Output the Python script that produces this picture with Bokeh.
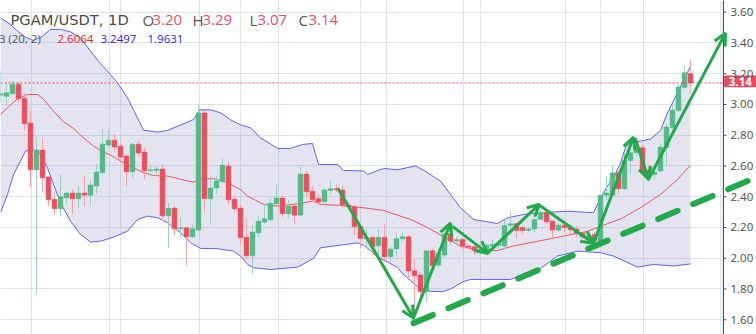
from bokeh.plotting import figure
from bokeh.models import (Range1d, FixedTicker, PrintfTickFormatter, Grid, Arrow,
                          OpenHead, Label, Span, ColumnDataSource, BoxAnnotation)
from bokeh.embed import file_html
from bokeh.resources import INLINE

# ---------------- data (daily candles, index 0..115) ----------------
opens = [3.06, 3.054, 3.069, 3.132, 3.041, 2.879, 2.575, 2.703, 2.528, 2.384,
         2.322, 2.393, 2.424, 2.387, 2.424, 2.410, 2.469, 2.556, 2.736, 2.768,
         2.729, 2.664, 2.562, 2.742, 2.690, 2.569, 2.571, 2.580, 2.276, 2.326,
         2.192, 2.198, 2.140, 2.183, 2.944, 2.387, 2.456, 2.497, 2.599, 2.384,
         2.326, 2.137, 2.016, 2.165, 2.235, 2.250, 2.354, 2.391, 2.289, 2.339,
         2.280, 2.547, 2.436, 2.387, 2.367, 2.441, 2.452, 2.443, 2.346, 2.335,
         2.205, 2.125, 2.136, 2.081, 2.136, 2.010, 2.060, 2.127, 2.140, 1.919,
         1.891, 1.782, 2.049, 1.955, 2.020, 2.159, 2.112, 2.122, 2.079, 2.075,
         2.050, 2.046, 2.079, 2.085, 2.079, 2.213, 2.224, 2.200, 2.181, 2.190,
         2.252, 2.296, 2.241, 2.183, 2.215, 2.200, 2.190, 2.165, 2.132, 2.155,
         2.107, 2.410, 2.410, 2.556, 2.452, 2.636, 2.686, 2.718, 2.570, 2.545,
         2.567, 2.720, 2.850, 2.960, 3.110, 3.20]
highs = [3.22, 3.14, 3.152, 3.14, 3.076, 2.961, 2.788, 2.788, 2.532, 2.436,
         2.547, 2.436, 2.447, 2.473, 2.532, 2.502, 2.610, 2.837, 2.837, 2.809,
         2.740, 2.675, 2.753, 2.762, 2.718, 2.610, 2.599, 2.610, 2.361, 2.339,
         2.263, 2.198, 2.220, 3.000, 2.968, 2.541, 2.534, 2.649, 2.625, 2.410,
         2.350, 2.263, 2.215, 2.280, 2.350, 2.393, 2.476, 2.410, 2.378, 2.350,
         2.593, 2.567, 2.471, 2.415, 2.454, 2.506, 2.480, 2.475, 2.360, 2.346,
         2.216, 2.190, 2.140, 2.194, 2.227, 2.075, 2.162, 2.172, 2.151, 2.000,
         1.912, 2.049, 2.064, 2.060, 2.180, 2.242, 2.140, 2.130, 2.090, 2.080,
         2.070, 2.100, 2.120, 2.110, 2.250, 2.300, 2.230, 2.210, 2.200, 2.260,
         2.320, 2.300, 2.250, 2.240, 2.230, 2.220, 2.210, 2.170, 2.160, 2.170,
         2.410, 2.530, 2.600, 2.570, 2.680, 2.730, 2.780, 2.740, 2.600, 2.570,
         2.750, 2.880, 3.000, 3.130, 3.250, 3.29]
lows = [3.01, 2.99, 3.065, 3.011, 2.833, 2.462, 1.769, 2.426, 2.339, 2.285,
        2.270, 2.350, 2.285, 2.328, 2.335, 2.335, 2.419, 2.541, 2.718, 2.692,
        2.632, 2.471, 2.517, 2.658, 2.510, 2.541, 2.534, 2.241, 2.068, 2.150,
        2.133, 1.953, 2.133, 2.176, 2.300, 2.220, 2.419, 2.491, 2.350, 2.306,
        2.090, 1.992, 1.899, 2.133, 2.220, 2.241, 2.345, 2.267, 2.263, 2.224,
        2.272, 2.393, 2.361, 2.345, 2.361, 2.419, 2.430, 2.326, 2.320, 2.151,
        2.064, 2.070, 2.020, 2.021, 1.977, 1.977, 2.020, 2.107, 1.858, 1.603,
        1.728, 1.717, 1.934, 1.940, 2.000, 2.090, 2.090, 2.060, 2.060, 2.020,
        2.030, 2.030, 2.070, 2.060, 2.060, 2.200, 2.127, 2.160, 2.170, 2.170,
        2.250, 2.220, 2.130, 2.170, 2.170, 2.150, 2.140, 2.120, 2.120, 2.100,
        2.100, 2.380, 2.400, 2.420, 2.440, 2.550, 2.660, 2.540, 2.510, 2.520,
        2.560, 2.600, 2.840, 2.950, 3.100, 3.07]
closes = [3.07, 3.076, 3.132, 3.037, 2.874, 2.575, 2.703, 2.523, 2.380, 2.322,
          2.400, 2.424, 2.387, 2.424, 2.410, 2.476, 2.560, 2.742, 2.768, 2.723,
          2.658, 2.562, 2.742, 2.684, 2.569, 2.575, 2.580, 2.276, 2.326, 2.192,
          2.198, 2.140, 2.192, 2.944, 2.387, 2.456, 2.502, 2.606, 2.380, 2.322,
          2.133, 2.016, 2.170, 2.241, 2.257, 2.358, 2.391, 2.289, 2.339, 2.280,
          2.547, 2.432, 2.380, 2.365, 2.443, 2.452, 2.445, 2.346, 2.335, 2.205,
          2.129, 2.135, 2.075, 2.136, 2.010, 2.060, 2.127, 2.140, 1.917, 1.886,
          1.782, 2.049, 1.951, 2.030, 2.159, 2.111, 2.122, 2.079, 2.072, 2.050,
          2.060, 2.085, 2.090, 2.095, 2.213, 2.224, 2.181, 2.181, 2.190, 2.252,
          2.296, 2.237, 2.183, 2.215, 2.200, 2.185, 2.160, 2.140, 2.148, 2.116,
          2.410, 2.424, 2.556, 2.452, 2.636, 2.686, 2.718, 2.556, 2.545, 2.560,
          2.723, 2.853, 2.963, 3.113, 3.206, 3.14]

# Bollinger Bands (20, 2): (candle index, price)
bb_upper_x = [0, 1.67, 2.83, 4.17, 5.5, 7, 8.33, 10, 11.67, 13.33, 15, 16.67,
              18.33, 19.5, 21.17, 22.83, 23.83, 26.17, 27.83, 30, 32.17, 33.17,
              35, 36.67, 38.33, 40, 41.67, 43.33, 46.17, 48.33, 50.33, 52, 53,
              56.17, 57.17, 60.5, 61.17, 63.83, 66.17, 69.17, 71.17, 73.33, 75,
              76.67, 78.83, 82.83, 84.5, 87.83, 90.5, 94.5, 98.83, 100, 101.17,
              102.17, 103.33, 104.17, 105, 106.67, 108.33, 110, 111.17, 112.83, 115]
bb_upper_v = [3.563, 3.520, 3.477, 3.438, 3.416, 3.444, 3.488, 3.488, 3.472, 3.433,
              3.347, 3.265, 3.195, 3.141, 3.043, 2.913, 2.833, 2.820, 2.831, 2.866,
              2.902, 2.965, 2.965, 2.946, 2.900, 2.868, 2.848, 2.783, 2.714, 2.714,
              2.740, 2.746, 2.610, 2.610, 2.571, 2.567, 2.545, 2.584, 2.575, 2.601,
              2.556, 2.502, 2.415, 2.328, 2.252, 2.226, 2.263, 2.289, 2.296, 2.306,
              2.296, 2.390, 2.470, 2.520, 2.620, 2.720, 2.750, 2.762, 2.775, 2.830,
              2.946, 3.076, 3.2497]
bb_basis_x = [0, 1.17, 2.83, 4.5, 6.17, 7.17, 8.83, 10.5, 12.17, 13.83, 15.5,
              17.17, 18.83, 20.5, 22.17, 23.83, 25.5, 27.83, 29.5, 31.17, 32.17,
              33.33, 35.5, 37.83, 38.83, 40, 41.17, 43.83, 46.17, 49.5, 52.17,
              53.33, 56.67, 60.5, 63.83, 66.17, 68.33, 71.17, 73.83, 76.67, 78.83,
              82.83, 85.5, 89.5, 93.33, 97.83, 101.17, 103.33, 106.67, 110, 112.83, 115]
bb_basis_v = [2.935, 2.978, 3.037, 3.065, 3.065, 3.033, 2.957, 2.887, 2.844, 2.783,
              2.729, 2.692, 2.660, 2.621, 2.588, 2.556, 2.538, 2.534, 2.519, 2.502,
              2.495, 2.517, 2.517, 2.495, 2.470, 2.447, 2.404, 2.350, 2.339, 2.354,
              2.371, 2.350, 2.343, 2.328, 2.311, 2.280, 2.252, 2.200, 2.140, 2.080,
              2.057, 2.050, 2.080, 2.110, 2.140, 2.175, 2.225, 2.255, 2.328, 2.415,
              2.512, 2.6064]
bb_lower_x = [0, 1.17, 2.17, 3.33, 4.17, 5.5, 6.67, 7.83, 8.83, 10, 11.67, 13.33,
              15, 16.67, 18.83, 21.17, 22.83, 24.5, 26.17, 27.83, 30, 31.67, 33.33,
              36.17, 38.83, 40, 41.17, 42.17, 45, 49.5, 52.17, 53.33, 56.67, 59.5,
              60.5, 61.67, 62.83, 64.5, 66.17, 67, 68.33, 69.5, 71.67, 73.67, 75,
              77.17, 78.33, 85, 90, 92.83, 96.17, 100, 102.17, 106.17, 108.83,
              112.17, 115]
bb_lower_v = [2.296, 2.415, 2.545, 2.632, 2.697, 2.707, 2.675, 2.588, 2.480, 2.361,
              2.241, 2.155, 2.105, 2.111, 2.137, 2.176, 2.252, 2.274, 2.263, 2.231,
              2.166, 2.101, 2.064, 2.062, 2.046, 2.014, 1.960, 1.938, 1.927, 1.942,
              1.999, 2.068, 2.085, 2.100, 2.085, 2.050, 2.010, 1.975, 1.940, 1.900,
              1.855, 1.815, 1.785, 1.782, 1.800, 1.848, 1.862, 1.862, 1.934, 2.014,
              2.046, 2.036, 2.014, 1.942, 1.960, 1.949, 1.9631]

price_ticks = [1.6, 1.8, 2.0, 2.2, 2.4, 2.6, 2.8, 3.0, 3.2, 3.4, 3.6]
date_grid_idx = [5.17, 18.17, 33.17, 46.33, 64.33, 77.17, 94.17, 107.17, 120.25]
last_price = 3.14

# hand-drawn annotations (candle index, price)
zigzag_start_x = [56.33, 68.83, 75.5, 81.17, 90.0, 98.83, 105.83, 108.0]
zigzag_start_v = [2.449, 1.611, 2.202, 2.033, 2.339, 2.098, 2.774, 2.514]
zigzag_end_x = [68.83, 75.0, 81.17, 89.83, 98.83, 105.5, 108.0, 120.83]
zigzag_end_v = [1.611, 2.228, 2.033, 2.352, 2.098, 2.787, 2.514, 3.464]
trend_x = [68.83, 126.0]
trend_v = [1.578, 2.527]

# header legend
symbol_title = "PGAM/USDT, 1D"
ohlc_names = ["O", "H", "L", "C"]
ohlc_values = ["3.20", "3.29", "3.07", "3.14"]
bb_title = "BB (20, 2)"
bb_values = ["2.6064", "3.2497", "1.9631"]

UP, DOWN = "#53B987", "#EB4D5C"
UP_WICK, DOWN_WICK = "#9DD0C2", "#F3A2AB"
GREEN = "#22A94A"
AXIS = "#50535E"
TAG = "#E84A5F"
FONT = "Open Sans"
SCALE_START = 120.5   # price-scale border (candle-index units)
X_END = 126.0

# ---------------- figure ----------------
p = figure(frame_width=756, frame_height=334, x_range=Range1d(0, X_END),
           y_range=Range1d(1.504, 3.676), output_backend="svg",
           toolbar_location=None, x_axis_location=None, y_axis_location="right",
           min_border_left=0, min_border_right=0, min_border_top=0,
           min_border_bottom=0)
p.outline_line_color = None
p.background_fill_color = "white"
p.border_fill_color = "white"

# price scale: real axis whose labels are pulled back over the scale strip
ax = p.yaxis[0]
ax.ticker = FixedTicker(ticks=price_ticks)
ax.formatter = PrintfTickFormatter(format="%.2f")
ax.axis_line_color = None
ax.major_tick_line_color = None
ax.minor_tick_line_color = None
ax.major_tick_in = 0
ax.major_tick_out = 0
ax.major_label_text_font = FONT
ax.major_label_text_font_size = "11.5px"
ax.major_label_text_color = "#4A4A4A"
ax.major_label_standoff = -26

p.ygrid.ticker = FixedTicker(ticks=price_ticks)
p.ygrid.grid_line_color = "#DCE3EC"
p.add_layout(Grid(dimension=0, ticker=FixedTicker(ticks=date_grid_idx),
                  grid_line_color="#DCE3EC"))
# plain background behind the price scale strip
p.add_layout(BoxAnnotation(left=SCALE_START, fill_color="white", fill_alpha=1.0,
                           line_color=None, level="underlay"))
p.add_layout(Span(location=SCALE_START, dimension="height", line_color=AXIS,
                  line_width=1))
p.segment(x0=SCALE_START, x1=SCALE_START + 0.5, y0=price_ticks, y1=price_ticks,
          line_color=AXIS, line_width=1)

# Bollinger band fill + lines
p.patch(bb_upper_x + bb_lower_x[::-1], bb_upper_v + bb_lower_v[::-1],
        fill_color="#9494C8", fill_alpha=0.25, line_color=None)
p.line(bb_upper_x, bb_upper_v, line_color="#6262F2", line_width=1)
p.line(bb_lower_x, bb_lower_v, line_color="#6262F2", line_width=1)
p.line(bb_basis_x, bb_basis_v, line_color="#E8585E", line_width=1)

# candles
idx = list(range(len(opens)))
body_top = [max(o, c) for o, c in zip(opens, closes)]
body_bot = [min(o, c) for o, c in zip(opens, closes)]
is_up = [c >= o for o, c in zip(opens, closes)]
src = ColumnDataSource(dict(
    x=idx, high=highs, low=lows, top=body_top, bottom=body_bot,
    color=[UP if u else DOWN for u in is_up],
    wick=[UP_WICK if u else DOWN_WICK for u in is_up]))
p.segment(x0="x", y0="low", x1="x", y1="high", line_color="wick",
          line_width=1, source=src)
p.vbar(x="x", width=0.8, top="top", bottom="bottom", fill_color="color",
       line_color="color", line_width=0.5, source=src)

# last price line (chart area only)
p.segment(x0=[0], x1=[SCALE_START], y0=[last_price], y1=[last_price],
          line_color=TAG, line_dash="2 2", line_width=1)

# annotations
p.add_layout(Arrow(x_start=trend_x[0], y_start=trend_v[0], x_end=trend_x[1],
                   y_end=trend_v[1], end=None, line_color=GREEN, line_width=6,
                   line_dash="21 17", line_cap="round"))
for xs, vs, xe, ve in zip(zigzag_start_x, zigzag_start_v, zigzag_end_x, zigzag_end_v):
    p.add_layout(Arrow(x_start=xs, y_start=vs, x_end=xe, y_end=ve,
                       line_color=GREEN, line_width=3, line_cap="round",
                       end=OpenHead(size=12, line_color=GREEN, line_width=3)))

# price tag on the scale
tag_mid = last_price + 0.01
p.quad(left=[SCALE_START + 0.1], right=[X_END], bottom=[tag_mid - 0.038],
       top=[tag_mid + 0.038], fill_color=TAG, line_color=None)
p.add_layout(Label(x=(SCALE_START + X_END) / 2 + 0.05, y=tag_mid,
                   text=f"{last_price:.2f}", text_align="center",
                   text_baseline="middle", text_color="white", text_font=FONT,
                   text_font_style="bold", text_font_size="11.5px"))

# legend header
def lab(x, y, text, color, size, font=FONT):
    p.add_layout(Label(x=x, y=y, x_units="screen", y_units="screen", text=text,
                       text_color=color, text_font=font, text_font_size=size,
                       text_baseline="alphabetic"))

lab(10, 315, symbol_title, "#4A4A4A", "14.7px", "DejaVu Sans")
for xn, xv, n, v in zip([142, 192, 249, 298], [152, 202, 257, 308],
                        ohlc_names, ohlc_values):
    lab(xn, 315, n, "#555555", "15px")
    lab(xv, 315, v, "#E9505F", "15px")
lab(-10, 296, bb_title, "#555555", "11.5px")
for xv, v, col in zip([57, 100, 147], bb_values, ["#F41E1E", "#1F1FEF", "#1F1FEF"]):
    lab(xv, 296, v, col, "11.5px")

open("out.html", "w").write(file_html(p, INLINE))
